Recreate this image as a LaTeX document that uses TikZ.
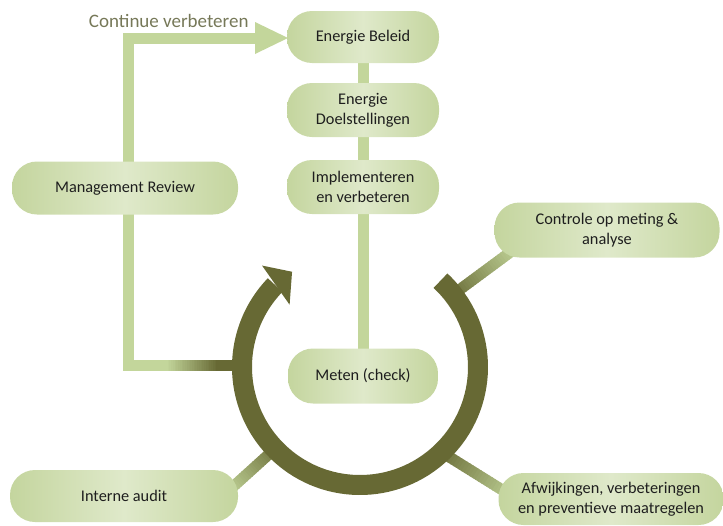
\documentclass[tikz,border=0pt]{standalone}
\usepackage{fontspec}
\setmainfont{Carlito}
\usetikzlibrary{calc}
\definecolor{connc}{RGB}{195,214,155}
\definecolor{ringc}{RGB}{103,105,52}
\definecolor{boxedge}{RGB}{196,213,158}
\definecolor{boxmid}{RGB}{223,233,202}
\definecolor{txtc}{RGB}{30,30,30}
\definecolor{labc}{RGB}{118,120,88}
\newcommand\mygrad[3]{% from #1 (dark) to #2 (light), width #3
  \foreach \i in {0,...,29}{
    \pgfmathtruncatemacro\p{100-\i*100/29}
    \draw[line width=#3, color=ringc!\p!connc]
      ($(#1)!{\i/30}!(#2)$) -- ($(#1)!{(\i+1.3)/30}!(#2)$);
  }}
\tikzset{
  box/.style={draw=none, left color=boxedge, right color=boxedge, middle color=boxmid,
    rounded corners=25pt, minimum height=53pt, text=txtc,
    font=\fontsize{16.3}{20}\selectfont, align=center, inner sep=0pt},
  conn/.style={draw=connc, line width=11pt, line join=miter},
}
\begin{document}
\begin{tikzpicture}[x=1pt,y=-1pt]
\useasboundingbox (0,0) rectangle (723,525);
\coordinate (C) at (360,367);
% column line
\coordinate (colTop) at (363,37);
\coordinate (colBot) at (363,376);
\draw[conn] (colTop) -- (colBot);
% left loop
\coordinate (ahBase) at (255,38);
\coordinate (ahTip) at (288,38);
\coordinate (lc) at (128,365);
\coordinate (g1) at (166,365);
\coordinate (g2) at (218,365);
\coordinate (g3) at (242,365);
\draw[conn] (ahBase) -| (lc) -- (g1);
\fill[connc] ($(ahBase)+(0,-16)$) -- (ahTip) -- ($(ahBase)+(0,16)$) -- cycle;
\mygrad{g2}{g1}{11pt}
\draw[ringc, line width=11pt] (g2) -- (g3);
\node[text=labc, font=\fontsize{19}{22}\selectfont, anchor=east] (cv) at (252,21) {Continue verbeteren};
% spoke connectors
\coordinate (r1) at ($(C)+(38:112pt)$);
\coordinate (b1) at (520,245);
\mygrad{r1}{b1}{11pt}
\coordinate (r2) at ($(C)+(-136:110pt)$);
\coordinate (b2) at (225,494);
\mygrad{r2}{b2}{11pt}
\coordinate (r3) at ($(C)+(-47:112pt)$);
\coordinate (b3) at (520,501);
\mygrad{r3}{b3}{11pt}
% ring
\draw[ringc, line width=20pt] ($(C)+(47:118pt)$) arc[start angle=47, end angle=-224, radius=118pt];
\fill[ringc] ($(C)+(134:141pt)$) -- ($(C)+(125.5:117pt)$) -- ($(C)+(138.5:94pt)$) -- cycle;
% boxes
\node[box, minimum width=152pt, minimum height=52pt] (beleid) at (363,37) {Energie Beleid};
\node[box, minimum width=152pt, minimum height=54pt] (doel) at (363,110) {Energie\\Doelstellingen};
\node[box, minimum width=152pt, minimum height=54pt] (impl) at (363,187) {Implementeren\\en verbeteren};
\node[box, minimum width=150pt, minimum height=55pt] (meten) at (363,376) {Meten (check)};
\node[box, minimum width=226pt] (mgmt) at (125,188) {Management Review};
\node[box, minimum width=225pt, minimum height=55pt] (contr) at (607,230) {Controle op meting \&\\analyse};
\node[box, minimum width=228pt, minimum height=52pt] (audit) at (124,496) {Interne audit};
\node[box, minimum width=225pt, minimum height=52pt] (afw) at (611,499) {Afwijkingen, verbeteringen\\en preventieve maatregelen};
\end{tikzpicture}
\end{document}
